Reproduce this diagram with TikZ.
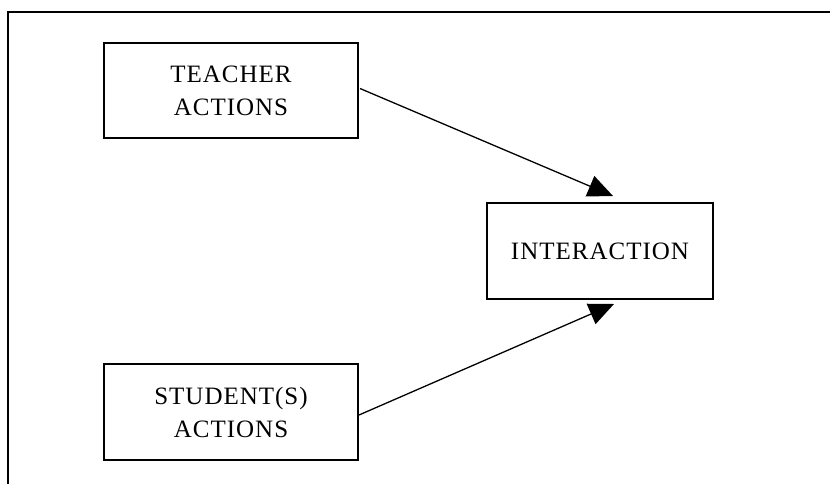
\documentclass[tikz,border=0pt]{standalone}
\usepackage{fontspec}
\setmainfont{Liberation Serif}[LetterSpace=4]
\usetikzlibrary{arrows.meta,calc}
\begin{document}
\begin{tikzpicture}[x=1pt,y=-1pt,
  box/.style={draw,line width=2pt,rectangle,inner sep=0pt,align=center,
    font=\fontsize{25}{33}\selectfont},
  conn/.style={line width=1.3pt,-{Triangle[length=25pt,width=22pt]}}]
\useasboundingbox (0,0) rectangle (830,484);
\draw[line width=2pt] (8,484) -- (8,12) -- (830,12);
\node[box,minimum width=254pt,minimum height=95pt] (teacher) at (231,90.5) {TEACHER\\ACTIONS};
\node[box,minimum width=254pt,minimum height=96pt] (student) at (231,412) {STUDENT(S)\\ACTIONS};
\node[box,minimum width=226pt,minimum height=96pt] (inter) at (600,251) {INTERACTION};
\draw[conn] ($(teacher.east)+(1,-2)$) -- ($(inter.north)+(13,-6)$);
\draw[conn] ($(student.east)+(0,3)$) -- ($(inter.south)+(14,4)$);
\end{tikzpicture}
\end{document}
